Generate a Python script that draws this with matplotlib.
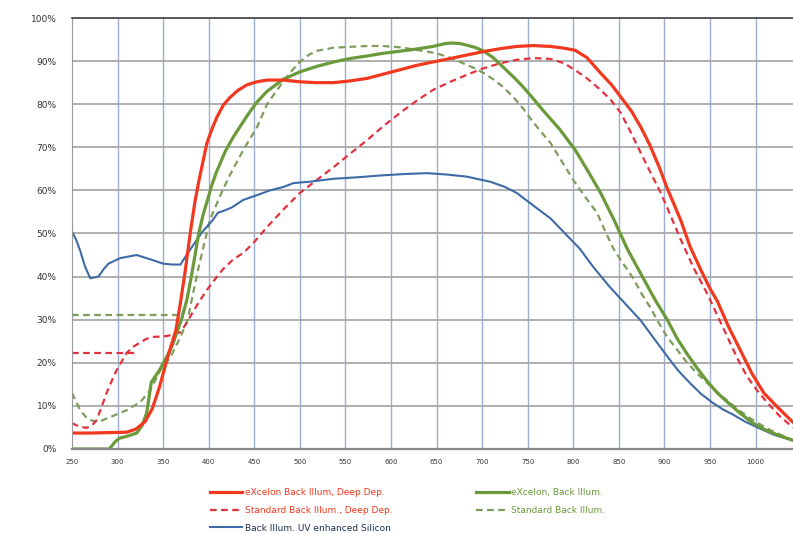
import matplotlib
matplotlib.use("Agg")
import matplotlib.pyplot as plt
import numpy as np

# wavelength (nm) / quantum efficiency (%)
exc_dd_x = [250, 270, 290, 310, 320, 330, 338, 346, 354, 364, 369, 374, 380, 385, 389, 394, 398,
            404, 409, 416, 423, 432, 442, 453, 464, 482, 500, 518, 537, 555, 574, 592, 610, 628,
            646, 665, 683, 701, 720, 738, 756, 775, 790, 802, 815, 830, 842, 852, 864, 874, 884,
            894, 903, 910, 918, 928, 940, 950, 958, 970, 983, 996, 1009, 1025, 1041]
exc_dd_y = [3.7, 3.7, 3.8, 3.9, 4.6, 6.3, 9.3, 14.4, 20.6, 27.6, 34.0, 41.0, 50.5, 57.5, 62.0, 67.0, 71.0,
            74.5, 77.0, 79.8, 81.5, 83.2, 84.5, 85.2, 85.6, 85.6, 85.2, 85.0, 85.0, 85.4, 86.0, 87.0, 88.0, 89.0,
            89.8, 90.6, 91.4, 92.2, 92.9, 93.4, 93.6, 93.4, 93.0, 92.5, 90.8, 87.2, 84.5, 81.7, 78.3, 74.7, 70.5,
            65.5, 60.5, 57.0, 53.0, 47.0, 41.5, 37.2, 34.3, 28.5, 23.0, 17.5, 13.0, 9.5, 6.2]

std_dd_x = [250, 258, 266, 272, 277, 282, 288, 294, 299, 305, 310, 317, 324, 331, 339, 354, 369, 375,
            381, 389, 398, 407, 416, 427, 438, 449, 464, 482, 500, 519, 537, 555, 574, 592, 610, 628,
            646, 665, 683, 701, 720, 738, 756, 775, 790, 802, 815, 830, 841, 852, 863, 874, 885, 896,
            907, 918, 932, 947, 958, 969, 980, 991, 1002, 1013, 1027, 1041]
std_dd_y = [6.0, 5.2, 4.9, 5.5, 6.7, 9.5, 13.0, 16.0, 18.3, 20.5, 22.3, 23.7, 24.6, 25.5, 26.0, 26.2, 27.1, 29.0,
            31.2, 34.0, 36.9, 39.4, 41.8, 44.0, 45.5, 47.8, 51.5, 55.6, 59.4, 62.5, 65.4, 68.5, 71.7, 75.0, 78.0, 80.8,
            83.3, 85.2, 86.8, 88.3, 89.5, 90.3, 90.7, 90.5, 89.5, 87.9, 86.0, 83.3, 81.0, 78.0, 73.5, 68.7, 64.0, 59.4,
            54.0, 48.5, 42.0, 36.0, 31.0, 26.0, 21.0, 16.7, 13.5, 10.7, 7.5, 5.0]
std_dd_flat_x = [250, 320]
std_dd_flat_y = [22.3, 22.3]

exc_bi_x = [250, 270, 291, 297, 302, 311, 321, 327, 332, 337, 346, 354, 360, 365, 370, 376, 380, 385,
            389, 394, 399, 403, 408, 412, 418, 427, 435, 442, 453, 464, 482, 500, 519, 537, 555, 574,
            591, 610, 628, 646, 658, 665, 675, 683, 692, 701, 712, 723, 734, 745, 756, 767, 785, 802,
            816, 830, 845, 859, 868, 877, 890, 903, 914, 925, 936, 947, 958, 969, 983, 997, 1010, 1025, 1041]
exc_bi_y = [0.0, 0.0, 0.0, 1.6, 2.5, 3.0, 3.7, 5.5, 8.4, 15.5, 18.3, 21.4, 24.0, 27.0, 30.0, 34.6, 39.0, 45.0,
            50.0, 54.5, 58.0, 61.0, 64.0, 66.0, 69.0, 72.4, 75.0, 77.3, 80.5, 83.0, 85.8, 87.5, 88.8, 89.8, 90.6, 91.2,
            91.8, 92.3, 92.8, 93.4, 94.0, 94.2, 94.1, 93.7, 93.2, 92.4, 90.8, 88.6, 86.4, 84.0, 81.3, 78.5, 74.2, 69.4,
            64.5, 59.4, 53.0, 46.5, 43.0, 39.5, 34.5, 30.0, 25.6, 22.0, 18.7, 15.7, 13.0, 10.9, 8.3, 6.0, 4.5, 3.2, 2.0]

std_bi_x = [250, 255, 259, 265, 270, 279, 292, 310, 325, 336, 347, 358, 369, 377, 382, 389, 396, 401,
            407, 412, 423, 438, 453, 464, 474, 482, 490, 500, 510, 519, 537, 555, 573, 591, 610, 628,
            650, 665, 679, 690, 701, 712, 723, 734, 745, 756, 767, 775, 788, 800, 813, 826, 835, 844,
            850, 858, 866, 875, 884, 893, 903, 914, 925, 936, 947, 958, 969, 983, 997, 1015, 1041]
std_bi_y = [13.0, 10.8, 9.0, 7.5, 6.7, 6.3, 7.4, 9.0, 10.9, 13.7, 18.3, 21.3, 26.0, 30.0, 35.3, 42.2, 48.5, 53.0,
            56.0, 58.5, 63.5, 69.4, 74.7, 80.0, 83.0, 85.3, 87.5, 89.8, 91.5, 92.4, 93.1, 93.3, 93.5, 93.5, 93.2, 92.6,
            91.8, 90.8, 89.5, 88.5, 87.3, 85.8, 84.0, 81.7, 79.0, 75.8, 73.0, 71.0, 66.5, 62.4, 58.5, 54.8, 50.5, 46.5,
            44.5, 42.0, 39.5, 36.0, 33.0, 29.5, 26.0, 23.0, 20.0, 17.5, 15.3, 13.2, 11.2, 8.8, 6.7, 4.5, 2.0]
std_bi_flat_x = [250, 370]
std_bi_flat_y = [31.2, 31.2]

uv_x = [250, 255, 259, 264, 270, 279, 285, 290, 303, 321, 336, 350, 360, 369, 375, 382, 393, 404,
        410, 418, 425, 438, 453, 467, 482, 493, 510, 537, 560, 591, 615, 640, 660, 683, 709, 725,
        738, 756, 775, 790, 807, 822, 840, 857, 874, 889, 903, 915, 928, 940, 953, 964, 975, 988,
        1002, 1020, 1041]
uv_y = [50.5, 48.3, 46.0, 42.5, 39.6, 40.0, 41.8, 43.0, 44.3, 45.0, 44.0, 43.0, 42.8, 42.8, 44.8, 47.0, 50.4, 53.0,
        54.8, 55.4, 56.0, 57.8, 58.9, 60.0, 60.8, 61.7, 62.0, 62.7, 63.0, 63.5, 63.8, 64.0, 63.7, 63.2, 62.0, 60.8,
        59.4, 56.5, 53.5, 50.2, 46.5, 42.2, 37.6, 33.7, 29.8, 25.5, 21.5, 18.2, 15.3, 12.8, 10.7, 9.2, 8.0, 6.4,
        5.0, 3.3, 2.0]

x_ticks = list(range(250, 1001, 50))
y_ticks = list(range(0, 101, 10))

labels = ["eXcelon Back Illum, Deep Dep.",
          "Standard Back Illum., Deep Dep.",
          "Back Illum. UV enhanced Silicon",
          "eXcelon, Back Illum.",
          "Standard Back Illum."]

red = "#F2391F"
red_d = "#E3323F"
green = "#6A9A3A"
green_d = "#7E9C5C"
blue = "#3E6BA6"

fig = plt.figure(figsize=(7.93, 5.33), dpi=100)
ax = fig.add_axes([72 / 793, 1 - 449 / 533, 1 - 72 / 793, (449 - 18) / 533])

dash = (0, (3.0, 2.0))
ax.plot(std_bi_flat_x, std_bi_flat_y, color=green_d, lw=1.6, ls=dash)
l5, = ax.plot(std_bi_x, std_bi_y, color=green_d, lw=1.6, ls=dash)
ax.plot(std_dd_flat_x, std_dd_flat_y, color=red_d, lw=1.6, ls=dash)
l2, = ax.plot(std_dd_x, std_dd_y, color=red_d, lw=1.6, ls=dash)
l3, = ax.plot(uv_x, uv_y, color=blue, lw=1.5)
l4, = ax.plot(exc_bi_x, exc_bi_y, color=green, lw=2.3)
l1, = ax.plot(exc_dd_x, exc_dd_y, color=red, lw=2.3)

ax.set_xlim(250, 1041)
ax.set_ylim(0, 100)
ax.set_xticks(x_ticks)
ax.set_xticklabels([str(v) for v in x_ticks], fontsize=5, color="#333333")
ax.set_yticks(y_ticks)
ax.set_yticklabels([f"{v}%" for v in y_ticks], fontsize=6.5, color="#333333")
ax.tick_params(length=0)
ax.tick_params(axis="x", pad=7)
ax.tick_params(axis="y", pad=11)

for v in x_ticks[1:]:
    ax.axvline(v, color="#9AAFD0", lw=1.0, zorder=0)
for v in y_ticks[1:]:
    ax.axhline(v, color="#A8A8A8", lw=1.3, zorder=0)

ax.spines["right"].set_visible(False)
ax.spines["top"].set_color("#444444")
ax.spines["top"].set_linewidth(1.2)
ax.spines["bottom"].set_color("#888888")
ax.spines["bottom"].set_linewidth(1.6)
ax.spines["left"].set_color("#999999")
ax.spines["left"].set_linewidth(0.8)

leg_kw = dict(loc="upper left", frameon=False, fontsize=6.5, borderpad=0, borderaxespad=0,
              handlelength=3.6, handletextpad=0.3, labelspacing=0.97)
fig.legend([l1, l2, l3], labels[:3], bbox_to_anchor=(210 / 793, 1 - 488 / 533),
           labelcolor=[red, red, "#1F2F4F"], **leg_kw)
fig.legend([l4, l5], labels[3:], bbox_to_anchor=(476 / 793, 1 - 488 / 533),
           labelcolor=[green, green], **leg_kw)

fig.savefig("out.png", dpi=100)
